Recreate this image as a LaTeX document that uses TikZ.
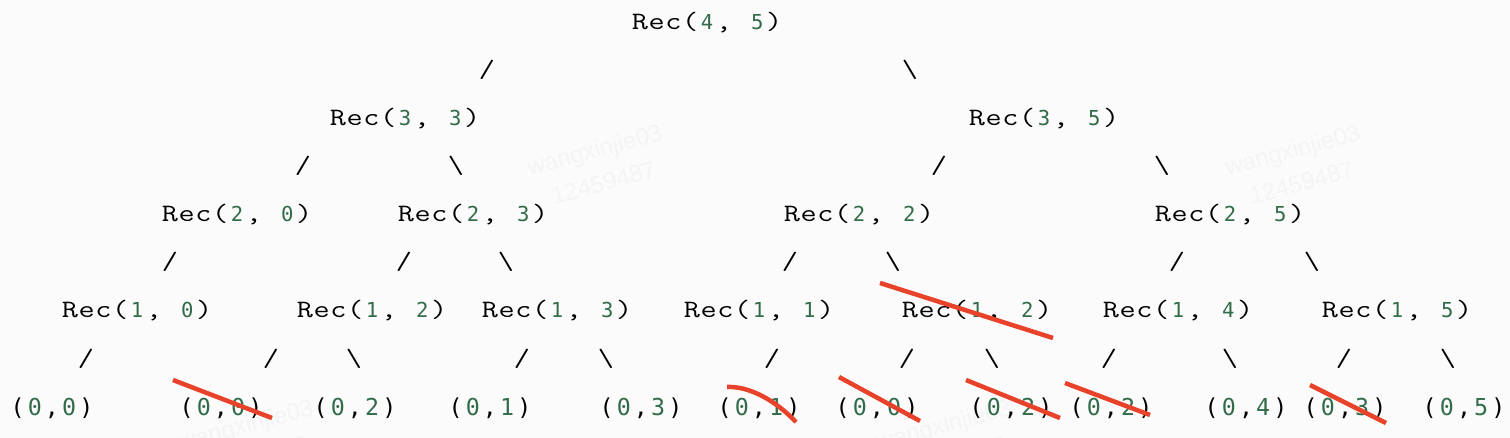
\documentclass[tikz,border=0pt]{standalone}
\usepackage{fontspec}
\usepackage{tikz}
\newfontfamily\recfont[FakeStretch=1.25]{Latin Modern Mono}
\newfontfamily\numfont{DejaVu Sans Mono}
\newfontfamily\markfont{Liberation Sans}
\definecolor{numgreen}{RGB}{50,108,74}
\definecolor{strikered}{RGB}{232,66,42}
\definecolor{paper}{RGB}{251,251,251}
\definecolor{markgray}{RGB}{244,244,244}
% one monospace cell per character
\newcommand\cl[1]{\makebox[16.8pt]{#1}}
\newcommand\gn[1]{\makebox[16.8pt]{\numfont\fontsize{20.6pt}{20.6pt}\selectfont\color{numgreen}#1}}
\newcommand\gl[1]{\makebox[17.2pt]{\numfont\fontsize{23.3pt}{23.3pt}\selectfont\color{numgreen}#1}}
\newcommand\pl[1]{\makebox[17.2pt]{\numfont\fontsize{23.3pt}{23.3pt}\selectfont#1}}
\newcommand\rec[2]{\cl{R}\cl{e}\cl{c}\cl{(}\gn{#1}\cl{,}\cl{}\gn{#2}\cl{)}}
\newcommand\leaf[2]{\pl{(}\gl{#1}\pl{,}\gl{#2}\pl{)}}
\tikzstyle{call}=[inner sep=0pt,%
                  anchor=base,%
                  font=\recfont\fontsize{25pt}{25pt}\selectfont]
\tikzstyle{edge}=[call]
\tikzstyle{leafnode}=[inner sep=0pt, anchor=base]
\tikzstyle{strike}=[draw=strikered, line width=4.5pt]
\tikzstyle{wmark}=[text=markgray, align=center, rotate=15,%
                   font=\markfont\fontsize{24pt}{34pt}\selectfont]

\begin{document}
\begin{tikzpicture}[x=1pt,y=-1pt]
            \useasboundingbox (0,0) rectangle (1510,438);
            \fill[paper] (0,0) rectangle (1510,438);
            \clip (0,0) rectangle (1510,438);
            % watermark
            \node[wmark] (w1) at (599,166) {wangxinjie03\\12459487};
            \node[wmark] (w2) at (1297,166) {wangxinjie03\\12459487};
            \node[wmark] (w3) at (250,441) {wangxinjie03\\12459487};
            \node[wmark] (w4) at (948,441) {wangxinjie03\\12459487};
            % level 4
            \node[call] (r45) at (707,30) {\rec{4}{5}};
            \node[edge] (e1) at (487,78) {/};
            \node[edge] (e2) at (910,78) {\char`\\};
            % level 3
            \node[call] (r33) at (405,126) {\rec{3}{3}};
            \node[call] (r35) at (1044,126) {\rec{3}{5}};
            \node[edge] (e3) at (303,174) {/};
            \node[edge] (e4) at (456,174) {\char`\\};
            \node[edge] (e5) at (939,174) {/};
            \node[edge] (e6) at (1162,174) {\char`\\};
            % level 2
            \node[call] (r20) at (237,222) {\rec{2}{0}};
            \node[call] (r23) at (473,222) {\rec{2}{3}};
            \node[call] (r22) at (859,222) {\rec{2}{2}};
            \node[call] (r25) at (1230,222) {\rec{2}{5}};
            \node[edge] (e7) at (170,270) {/};
            \node[edge] (e8) at (404,270) {/};
            \node[edge] (e9) at (506,270) {\char`\\};
            \node[edge] (e10) at (790,270) {/};
            \node[edge] (e11) at (893,270) {\char`\\};
            \node[edge] (e12) at (1177,270) {/};
            \node[edge] (e13) at (1312,270) {\char`\\};
            % level 1
            \node[call] (r10) at (137,318) {\rec{1}{0}};
            \node[call] (r12) at (372,318) {\rec{1}{2}};
            \node[call] (r13) at (557,318) {\rec{1}{3}};
            \node[call] (r11) at (759,318) {\rec{1}{1}};
            \node[call] (r12b) at (977,318) {\rec{1}{2}};
            \node[call] (r14) at (1178,318) {\rec{1}{4}};
            \node[call] (r15) at (1397,318) {\rec{1}{5}};
            \node[edge] (e14) at (86,366) {/};
            \node[edge] (e15) at (271,366) {/};
            \node[edge] (e16) at (354,366) {\char`\\};
            \node[edge] (e17) at (522,366) {/};
            \node[edge] (e18) at (606,366) {\char`\\};
            \node[edge] (e19) at (772,366) {/};
            \node[edge] (e20) at (907,366) {/};
            \node[edge] (e21) at (992,366) {\char`\\};
            \node[edge] (e22) at (1109,366) {/};
            \node[edge] (e23) at (1230,366) {\char`\\};
            \node[edge] (e24) at (1344,366) {/};
            \node[edge] (e25) at (1448,366) {\char`\\};
            % level 0
            \node[leafnode] (l1) at (52,415) {\leaf{0}{0}};
            \node[leafnode] (l2) at (221,415) {\leaf{0}{0}};
            \node[leafnode] (l3) at (355,415) {\leaf{0}{2}};
            \node[leafnode] (l4) at (490,415) {\leaf{0}{1}};
            \node[leafnode] (l5) at (641,415) {\leaf{0}{3}};
            \node[leafnode] (l6) at (759,415) {\leaf{0}{1}};
            \node[leafnode] (l7) at (877,415) {\leaf{0}{0}};
            \node[leafnode] (l8) at (1011,415) {\leaf{0}{2}};
            \node[leafnode] (l9) at (1111,415) {\leaf{0}{2}};
            \node[leafnode] (l10) at (1246,415) {\leaf{0}{4}};
            \node[leafnode] (l11) at (1345,415) {\leaf{0}{3}};
            \node[leafnode] (l12) at (1464,415) {\leaf{0}{5}};
            % crossed out
            \draw[strike] ([shift={(-48,-35)}]l2.base) -- ([shift={(51,3)}]l2.base);
            \draw[strike] ([shift={(-97,-35)}]r12b.base) -- ([shift={(76,20)}]r12b.base);
            \draw[strike] ([shift={(-32,-28)}]l6.base) .. controls ([shift={(-10,-29)}]l6.base)
                          and ([shift={(16,-15)}]l6.base) .. ([shift={(37,7)}]l6.base);
            \draw[strike] ([shift={(-38,-38)}]l7.base) -- ([shift={(43,6)}]l7.base);
            \draw[strike] ([shift={(-45,-35)}]l8.base) -- ([shift={(49,3)}]l8.base);
            \draw[strike] ([shift={(-46,-32)}]l9.base) -- ([shift={(39,0)}]l9.base);
            \draw[strike] ([shift={(-35,-30)}]l11.base) -- ([shift={(41,8)}]l11.base);
\end{tikzpicture}
\end{document}
